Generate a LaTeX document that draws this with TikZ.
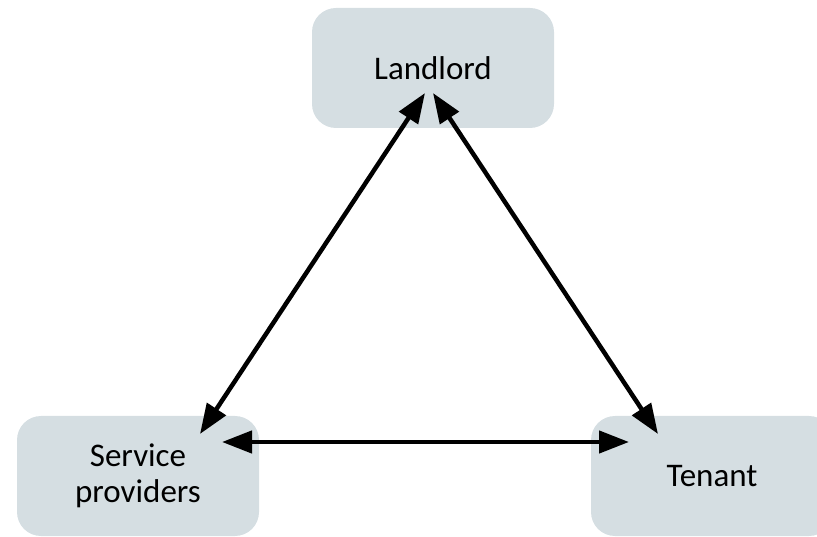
\documentclass[tikz,border=0pt]{standalone}
\usepackage{fontspec}
\setmainfont{Carlito}
\usetikzlibrary{arrows.meta, calc}
\definecolor{boxgray}{RGB}{213,222,226}
\tikzset{party/.style={fill=boxgray, rounded corners=24pt, minimum width=242pt, minimum height=120pt, align=center, font=\fontsize{33}{36}\selectfont},
         link/.style={{Triangle[length=30pt,width=22pt]}-{Triangle[length=30pt,width=22pt]}, line width=4.5pt}}

\begin{document}
\begin{tikzpicture}[x=1pt, y=1pt]
            \clip (0,0) rectangle (817,536);
            \node[party] (landlord) at (433,468) {Landlord};
            \node[party] (service_providers) at (138,60) {Service\\providers};
            \node[party] (tenant) at (712,60) {Tenant};
            % ends of the arrows
            \coordinate (landlord_left) at ($(landlord.center)+(-8,-25)$);
            \coordinate (landlord_right) at ($(landlord.center)+(0,-25)$);
            \coordinate (service_top) at ($(service_providers.center)+(62,42)$);
            \coordinate (service_right) at ($(service_providers.center)+(84,34)$);
            \coordinate (tenant_top) at ($(tenant.center)+(-54,42)$);
            \coordinate (tenant_left) at ($(tenant.center)+(-83,34)$);
            \draw[link] (landlord_left) -- (service_top);
            \draw[link] (landlord_right) -- (tenant_top);
            \draw[link] (service_right) -- (tenant_left);
      \end{tikzpicture}
\end{document}
